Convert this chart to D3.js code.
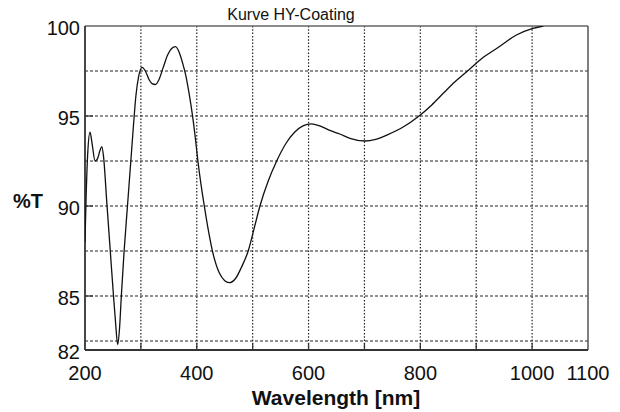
<!DOCTYPE html>
<html>
<head>
<meta charset="utf-8">
<script src="https://cdn.jsdelivr.net/npm/d3@7"></script>
<style>
  html, body { margin: 0; padding: 0; background: #fff; }
  svg { display: block; font-family: "Liberation Sans", Arial, sans-serif; }
</style>
</head>
<body>
<svg id="chart" width="620" height="412"></svg>
<script>
// Transmission curve (wavelength nm -> %T)
const wavelength = [
  200, 202, 205, 209, 213, 218, 222, 227, 230, 233, 239, 245, 251, 255, 258.5,
  262, 265, 270, 276, 282, 287, 291, 296, 302, 308, 315, 320, 326, 332, 340,
  348, 355, 362, 369, 375, 380, 386, 392, 397, 402, 408, 414, 421, 428, 440,
  450, 458, 470, 480, 492, 503, 513, 528, 543, 560, 575, 590, 605, 620, 638,
  656, 674, 701, 720, 740, 770, 796, 820, 841, 862, 883, 910, 937, 972, 1000, 1020
];
const transmission = [
  88.0, 90.5, 93.0, 94.1, 93.4, 92.5, 92.6, 93.1, 93.3, 92.8, 90.2, 87.6, 85.0, 83.4, 82.3,
  83.3, 85.0, 87.5, 90.0, 92.5, 94.6, 96.1, 97.2, 97.7, 97.5, 97.0, 96.8, 96.75, 97.0, 97.7,
  98.4, 98.75, 98.85, 98.5, 97.9, 97.3, 96.3, 95.1, 93.9, 92.5, 91.1, 89.9, 88.6, 87.5, 86.3,
  85.85, 85.74, 86.0, 86.6, 87.5, 88.8, 90.0, 91.4, 92.5, 93.5, 94.1, 94.45, 94.56, 94.45, 94.2,
  94.0, 93.76, 93.61, 93.7, 93.94, 94.4, 94.96, 95.6, 96.26, 96.9, 97.46, 98.2, 98.76, 99.5, 99.85, 100.0
];

const xTickLabels = [200, 400, 600, 800, 1000, 1100];
const yTickLabels = [100, 95, 90, 85, 82];
const xGrid = [300, 400, 500, 600, 700, 800, 900, 1000];
const yGrid = [82.5, 85, 87.5, 90, 92.5, 95, 97.5];
const xMinorTicks = [300, 400, 500, 600, 700, 800, 900, 1000];
const yMinorTicks = [85, 90, 95];

const margin = {top: 26, right: 32, bottom: 62, left: 85};
const width = 620, height = 412;

const svg = d3.select('#chart');

const x = d3.scaleLinear().domain([200, 1100]).range([margin.left, width - margin.right]);
const y = d3.scaleLinear().domain([82, 100]).range([height - margin.bottom, margin.top]);

// grid
svg.append('g')
  .attr('class', 'grid-y')
  .selectAll('line')
  .data(yGrid)
  .join('line')
    .attr('x1', x(200)).attr('x2', x(1100))
    .attr('y1', d => y(d)).attr('y2', d => y(d))
    .attr('stroke', '#222')
    .attr('stroke-width', 1)
    .attr('stroke-dasharray', '3,2');

svg.append('g')
  .attr('class', 'grid-x')
  .selectAll('line')
  .data(xGrid)
  .join('line')
    .attr('x1', d => x(d)).attr('x2', d => x(d))
    .attr('y1', y(100)).attr('y2', y(82))
    .attr('stroke', '#222')
    .attr('stroke-width', 1.2)
    .attr('stroke-dasharray', '1.5,1.8');

// small solid ticks inside the frame
svg.append('g')
  .selectAll('line')
  .data(xMinorTicks)
  .join('line')
    .attr('x1', d => x(d)).attr('x2', d => x(d))
    .attr('y1', y(82)).attr('y2', y(82) - 7)
    .attr('stroke', '#333').attr('stroke-width', 1.3);

svg.append('g')
  .selectAll('line')
  .data(yMinorTicks)
  .join('line')
    .attr('x1', x(200)).attr('x2', x(200) + 8)
    .attr('y1', d => y(d)).attr('y2', d => y(d))
    .attr('stroke', '#333').attr('stroke-width', 1.3);

// frame
svg.append('line')
  .attr('x1', x(200)).attr('x2', x(1100)).attr('y1', y(100)).attr('y2', y(100))
  .attr('stroke', '#666').attr('stroke-width', 1.5);
svg.append('line')
  .attr('x1', x(1100)).attr('x2', x(1100)).attr('y1', y(100)).attr('y2', y(82))
  .attr('stroke', '#555').attr('stroke-width', 1.5);
svg.append('line')
  .attr('x1', x(200)).attr('x2', x(1100)).attr('y1', y(82)).attr('y2', y(82))
  .attr('stroke', '#333').attr('stroke-width', 1.8);
svg.append('line')
  .attr('x1', x(200)).attr('x2', x(200)).attr('y1', y(100)).attr('y2', y(82))
  .attr('stroke', '#333').attr('stroke-width', 1.8);

// curve
svg.append('clipPath').attr('id', 'plot-clip')
  .append('rect')
    .attr('x', x(200)).attr('y', y(100))
    .attr('width', x(1100) - x(200)).attr('height', y(82) - y(100));

const line = d3.line()
  .x((d, i) => x(wavelength[i]))
  .y(d => y(d))
  .curve(d3.curveMonotoneX);

svg.append('path')
  .datum(transmission)
  .attr('clip-path', 'url(#plot-clip)')
  .attr('fill', 'none')
  .attr('stroke', '#111')
  .attr('stroke-width', 1.3)
  .attr('d', line);

// tick labels
svg.append('g')
  .selectAll('text')
  .data(xTickLabels)
  .join('text')
    .attr('x', d => x(d))
    .attr('y', 380)
    .attr('text-anchor', 'middle')
    .attr('font-size', 20)
    .attr('fill', '#111')
    .text(d => d);

svg.append('g')
  .selectAll('text')
  .data(yTickLabels)
  .join('text')
    .attr('x', 80)
    .attr('y', d => y(d) + 9)
    .attr('text-anchor', 'end')
    .attr('font-size', 20)
    .attr('fill', '#111')
    .text(d => d);

// titles
svg.append('text')
  .attr('x', 291).attr('y', 20)
  .attr('text-anchor', 'middle')
  .attr('font-size', 16)
  .attr('fill', '#111')
  .text('Kurve HY-Coating');

svg.append('text')
  .attr('x', 336).attr('y', 405)
  .attr('text-anchor', 'middle')
  .attr('font-size', 21)
  .attr('font-weight', 'bold')
  .attr('fill', '#111')
  .text('Wavelength [nm]');

svg.append('text')
  .attr('x', 13).attr('y', 208)
  .attr('font-size', 20)
  .attr('font-weight', 'bold')
  .attr('fill', '#111')
  .text('%T');
</script>
</body>
</html>
